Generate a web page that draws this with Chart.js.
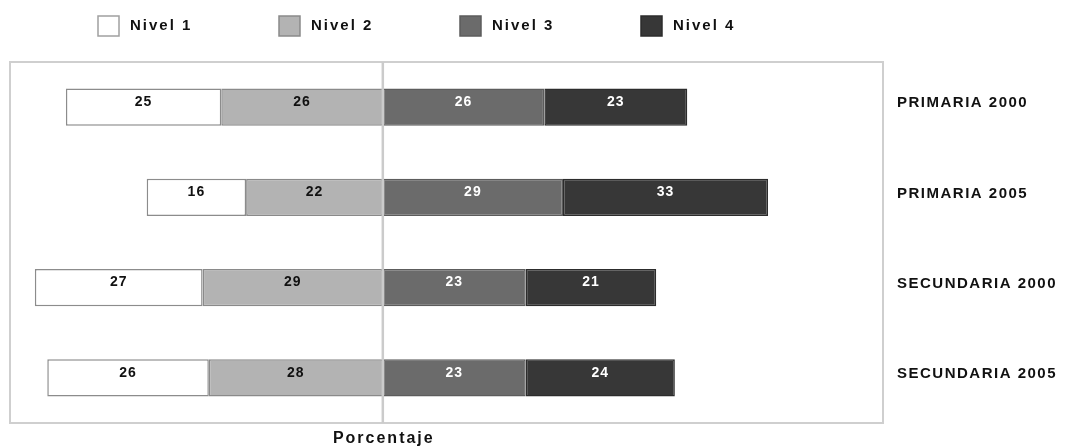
<!DOCTYPE html>
<html lang="es">
<head>
<meta charset="utf-8">
<title>Niveles de desempeño por nivel educativo</title>
<script src="https://cdn.jsdelivr.net/npm/chart.js@4/dist/chart.umd.min.js"></script>
<style>
  html, body { margin: 0; padding: 0; background: #ffffff; }
  #wrap { width: 1065px; height: 448px; position: relative; }
</style>
</head>
<body>
<div id="wrap"><canvas id="chart" width="1065" height="448"></canvas></div>
<script>
// Categories (one bar each) and the share of students per level, in percent
const categories = ['PRIMARIA 2000', 'PRIMARIA 2005', 'SECUNDARIA 2000', 'SECUNDARIA 2005'];
const levelNames = ['Nivel 1', 'Nivel 2', 'Nivel 3', 'Nivel 4'];
const nivel1 = [25, 16, 27, 26];
const nivel2 = [26, 22, 29, 28];
const nivel3 = [26, 29, 23, 23];
const nivel4 = [23, 33, 21, 24];
const axisTitle = 'Porcentaje';

// Greys for each level
const fills   = ['#ffffff', '#b3b3b3', '#6b6b6b', '#373737'];
const borders = ['#8c8c8c', '#8a8a8a', '#5c5c5c', '#2c2c2c'];
const inkColors = ['#111111', '#111111', '#ffffff', '#ffffff'];

const FONT = "'Liberation Sans', Arial, sans-serif";

// Levels 1 and 2 extend to the left of zero, levels 3 and 4 to the right.
// Datasets are ordered so that level 2 and level 3 sit next to the zero line.
function makeSet(level, values, sign) {
  return {
    label: levelNames[level],
    data: values.map(v => sign * v),
    levelIndex: level,
    backgroundColor: fills[level],
    borderColor: borders[level],
    borderWidth: 1.5,
    borderSkipped: false,
    barPercentage: 0.41,
    categoryPercentage: 1.0
  };
}

const datasets = [
  makeSet(1, nivel2, -1),
  makeSet(0, nivel1, -1),
  makeSet(2, nivel3, 1),
  makeSet(3, nivel4, 1)
];

// Frame, zero line, value labels, legend and axis title
const decorations = {
  id: 'decorations',
  beforeDraw(chart) {
    chart.ctx.letterSpacing = '1.5px';
  },
  beforeDatasetsDraw(chart) {
    const { ctx, chartArea: a } = chart;
    ctx.save();
    ctx.strokeStyle = '#cfcfcf';
    ctx.lineWidth = 2;
    ctx.strokeRect(a.left, a.top, a.right - a.left, a.bottom - a.top);
    ctx.restore();
  },
  afterDatasetsDraw(chart) {
    const { ctx, chartArea: a, scales } = chart;
    const x0 = scales.x.getPixelForValue(0);

    // zero reference line
    ctx.save();
    ctx.strokeStyle = '#cbcbcb';
    ctx.lineWidth = 2.5;
    ctx.beginPath();
    ctx.moveTo(x0, a.top);
    ctx.lineTo(x0, a.bottom);
    ctx.stroke();
    ctx.restore();

    // value labels inside every segment
    ctx.save();
    ctx.font = 'bold 14px ' + FONT;
    ctx.letterSpacing = '1px';
    ctx.textAlign = 'center';
    ctx.textBaseline = 'middle';
    chart.data.datasets.forEach((ds, di) => {
      const meta = chart.getDatasetMeta(di);
      meta.data.forEach((bar, i) => {
        const v = Math.abs(ds.data[i]);
        ctx.fillStyle = inkColors[ds.levelIndex];
        ctx.fillText(String(v), (bar.x + bar.base) / 2, bar.y - 5);
      });
    });
    ctx.restore();
  },
  afterDraw(chart) {
    const { ctx, scales } = chart;

    // legend in level order
    ctx.save();
    ctx.font = 'bold 15px ' + FONT;
    ctx.letterSpacing = '2px';
    ctx.textBaseline = 'middle';
    ctx.textAlign = 'left';
    const startX = 98, step = 181, boxW = 21, boxH = 20, boxY = 16;
    levelNames.forEach((name, i) => {
      const bx = startX + i * step;
      ctx.fillStyle = fills[i];
      ctx.fillRect(bx, boxY, boxW, boxH);
      ctx.strokeStyle = i === 0 ? '#a0a0a0' : borders[i];
      ctx.lineWidth = 1.5;
      ctx.strokeRect(bx, boxY, boxW, boxH);
      ctx.fillStyle = '#111111';
      ctx.fillText(name, bx + boxW + 11, boxY + boxH / 2);
    });

    // axis title centred on the zero line
    ctx.font = 'bold 16px ' + FONT;
    ctx.letterSpacing = '2px';
    ctx.textAlign = 'center';
    ctx.fillStyle = '#111111';
    ctx.fillText(axisTitle, scales.x.getPixelForValue(0) + 1, 439);
    ctx.restore();

    ctx.letterSpacing = '0px';
  }
};

new Chart(document.getElementById('chart'), {
  type: 'bar',
  data: { labels: categories, datasets },
  options: {
    indexAxis: 'y',
    responsive: false,
    animation: false,
    layout: { padding: { top: 62, left: 10, bottom: 25, right: 0 } },
    plugins: {
      legend: { display: false },
      tooltip: { enabled: false },
      title: { display: false }
    },
    scales: {
      x: {
        stacked: true,
        min: -60,
        max: 80.5,
        display: false
      },
      y: {
        stacked: true,
        position: 'right',
        grid: { display: false, drawTicks: false },
        border: { display: false },
        ticks: {
          padding: 14,
          labelOffset: -4,
          color: '#111111',
          font: { family: FONT, size: 15, weight: 'bold' }
        },
        afterFit(scale) { scale.width = 182; }
      }
    }
  },
  plugins: [decorations]
});
</script>
</body>
</html>
